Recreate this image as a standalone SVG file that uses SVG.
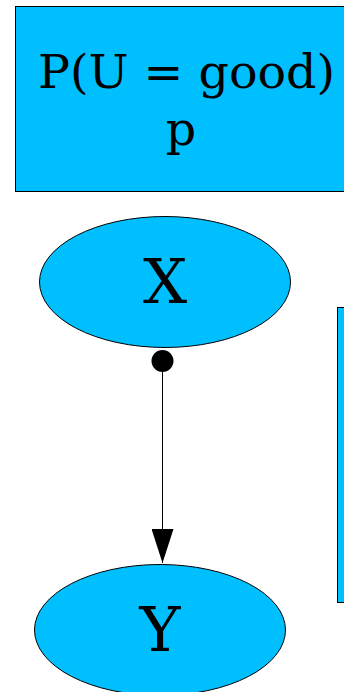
<svg xmlns="http://www.w3.org/2000/svg" width="344" height="692" viewBox="0 0 344 692">
<style>
.n{fill:#00bfff;stroke:#000;stroke-width:1}
.t{font-family:"DejaVu Serif",serif;fill:#000;text-anchor:middle}
</style>
<defs>
<marker id="ah" markerUnits="userSpaceOnUse" markerWidth="34" markerHeight="22" refX="34" refY="11" orient="auto" viewBox="0 0 34 22">
<path d="M0,0 L34,11 L0,22 Z" fill="#000"/>
</marker>
</defs>
<rect width="344" height="692" fill="#fff"/>
<g id="prior">
<rect class="n" x="15.5" y="6.5" width="340" height="185"/>
<text class="t" x="186.5" y="88" font-size="47.5">P(U = good)</text>
<text class="t" x="181" y="145" font-size="47.5">p</text>
</g>
<g id="side">
<rect class="n" x="337.5" y="307.5" width="20" height="295"/>
</g>
<g id="X">
<ellipse class="n" cx="165" cy="282" rx="125.5" ry="65.5"/>
<text class="t" x="165" y="303" font-size="62">X</text>
</g>
<g id="Y">
<ellipse class="n" cx="160" cy="630" rx="125.5" ry="65.5"/>
<text class="t" x="160" y="651" font-size="62">Y</text>
</g>
<g id="edges">
<circle cx="162.5" cy="361" r="11" fill="#000"/>
<line x1="162.5" y1="361" x2="162.5" y2="563" stroke="#000" stroke-width="1" marker-end="url(#ah)"/>
</g>
</svg>
